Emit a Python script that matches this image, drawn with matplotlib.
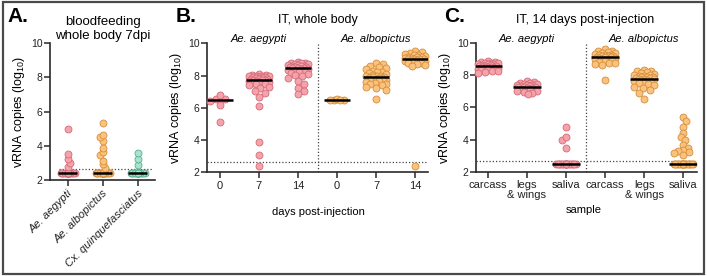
import numpy as np
import matplotlib
matplotlib.use('Agg')
import matplotlib.pyplot as plt
from matplotlib.patches import Rectangle
import matplotlib.transforms as mtransforms

plt.rcParams['font.family'] = ['Liberation Sans', 'DejaVu Sans']
plt.rcParams['mathtext.fontset'] = 'custom'
plt.rcParams['mathtext.rm'] = 'Liberation Sans'
plt.rcParams['mathtext.it'] = 'Liberation Sans:italic'

# ---------------- data ----------------
LOD = 2.65

# Panel A: bloodfeeding, whole body 7 dpi
A_species = ["Ae. aegypti", "Ae. albopictus", "Cx. quinquefasciatus"]
A_aegypti = [2.4] * 22 + [2.75, 3.0, 3.2, 3.5, 5.0]
A_albopictus = [2.4] * 22 + [2.71, 2.91, 3.14, 3.45, 3.64, 3.87, 4.26, 4.49, 4.65, 5.35]
A_culex = [2.4] * 16 + [2.9, 3.2, 3.6]

# Panel B: IT, whole body
B_days = ["0", "7", "14", "0", "7", "14"]
B_aeg_d0 = [6.52, 6.55, 6.17, 6.79, 6.45, 5.09]
B_aeg_d7 = [8.10, 8.05, 8.02, 8.00, 7.98, 7.95, 7.95, 7.92, 7.90, 7.88, 7.85, 7.83,
            7.80, 7.78, 7.76, 7.74, 7.72, 7.70, 7.68, 7.65, 7.62, 7.58, 7.55, 7.50,
            7.45, 7.40, 7.30, 7.20, 7.05, 6.90, 6.70, 6.10, 3.90, 3.10, 2.40]
B_aeg_d14 = [8.85, 8.80, 8.78, 8.75, 8.72, 8.70, 8.68, 8.65, 8.62, 8.60, 8.58, 8.55,
             8.52, 8.50, 8.48, 8.46, 8.45, 8.43, 8.40, 8.35, 8.30, 8.25, 8.20, 8.15,
             8.10, 8.05, 7.95, 7.85, 7.65, 7.45, 7.25, 7.05, 6.85]
B_alb_d0 = [6.48, 6.50, 6.52, 6.50, 6.49]
B_alb_d7 = [8.80, 8.70, 8.60, 8.50, 8.45, 8.40, 8.30, 8.25, 8.20, 8.15, 8.10, 8.05,
            8.00, 7.98, 7.95, 7.92, 7.90, 7.88, 7.86, 7.84, 7.80, 7.78, 7.75, 7.72,
            7.70, 7.65, 7.60, 7.55, 7.50, 7.45, 7.40, 7.30, 7.20, 7.10, 6.55]
B_alb_d14 = [9.55, 9.45, 9.40, 9.35, 9.30, 9.25, 9.20, 9.18, 9.15, 9.12, 9.10, 9.08,
             9.05, 9.03, 9.02, 9.00, 8.98, 8.95, 8.92, 8.90, 8.85, 8.80, 8.75, 8.70,
             8.65, 8.60, 2.40]

# Panel C: IT, 14 days post-injection
C_samples = ["carcass", "legs\n& wings", "saliva", "carcass", "legs\n& wings", "saliva"]
C_aeg_carcass = [8.90, 8.85, 8.82, 8.80, 8.78, 8.75, 8.72, 8.70, 8.68, 8.65, 8.62, 8.60,
                 8.58, 8.56, 8.55, 8.54, 8.52, 8.50, 8.48, 8.45, 8.42, 8.40, 8.38, 8.35,
                 8.30, 8.25, 8.20, 8.15]
C_aeg_legs = [7.62, 7.58, 7.55, 7.50, 7.48, 7.45, 7.42, 7.40, 7.38, 7.35, 7.32, 7.30,
              7.28, 7.26, 7.24, 7.20, 7.15, 7.10, 7.05, 7.00, 6.95, 6.90, 6.85]
C_aeg_saliva = [2.48] * 18 + [3.50, 3.95, 4.15, 4.80]
C_alb_carcass = [9.62, 9.55, 9.50, 9.45, 9.42, 9.38, 9.35, 9.30, 9.28, 9.25, 9.22, 9.20,
                 9.18, 9.15, 9.13, 9.12, 9.10, 9.08, 9.05, 9.02, 9.00, 8.95, 8.90, 8.85,
                 8.80, 8.75, 8.70, 8.65, 7.70]
C_alb_legs = [8.35, 8.30, 8.25, 8.20, 8.15, 8.10, 8.05, 8.00, 7.98, 7.95, 7.92, 7.90,
              7.88, 7.85, 7.82, 7.80, 7.78, 7.76, 7.74, 7.70, 7.65, 7.60, 7.55, 7.50,
              7.45, 7.40, 7.30, 7.20, 7.10, 6.90, 6.55]
C_alb_saliva = [2.48] * 18 + [5.38, 5.15, 4.80, 4.40, 4.15, 3.95, 3.68, 3.50, 3.38,
                              3.30, 3.22, 3.15, 3.05]

# ---------------- style ----------------
PINK = ('#F5A3AA', '#D46A77')
ORANGE = ('#FBC27E', '#D68E3A')
TEAL = ('#A9E3CF', '#52B08C')
AXC = '#2a2a2a'

W, H = 707, 276
fig = plt.figure(figsize=(W / 100, H / 100), dpi=100)


def ax_px(l, r, t, b):
    return fig.add_axes([l / W, 1 - b / H, (r - l) / W, (b - t) / H])


def fx(x):
    return x / W


def fy(y):
    return 1 - y / H


def style(ax, xlim):
    ax.set_xlim(*xlim)
    ax.set_ylim(2, 10)
    ax.set_yticks([2, 4, 6, 8, 10])
    for s in ('top', 'right'):
        ax.spines[s].set_visible(False)
    for s in ('left', 'bottom'):
        ax.spines[s].set_linewidth(1.2)
        ax.spines[s].set_color(AXC)
    ax.tick_params(axis='both', length=4, width=1.1, color=AXC, labelcolor='#222')
    ax.tick_params(axis='y', labelsize=7.5, pad=1.5)
    ax.tick_params(axis='x', labelsize=8, pad=2)
    ax.set_facecolor('none')


def swarm_offsets(ax, vals, d=7.0, maxhalf=10.0, overlap=0.85):
    pos = ax.get_position()
    x0, x1 = ax.get_xlim()
    ppx = pos.width * W / (x1 - x0)
    ppy = pos.height * H / 8.0
    y = np.asarray(vals, float) * ppy
    n = len(y)
    order = np.argsort(-y, kind='stable')
    step = d * 0.2
    k = int(maxhalf / step)
    cands = sorted([i * step for i in range(-k, k + 1)], key=lambda c: (abs(c), c))
    px = np.zeros(n)
    placed = []
    for idx, i in enumerate(order):
        best_c, best_m = 0.0, -1.0
        cl = cands if idx % 2 == 0 else sorted(cands, key=lambda c: (abs(c), -c))
        for c in cl:
            if placed:
                m = min(np.hypot(c - px[j], y[i] - y[j]) for j in placed)
            else:
                m = np.inf
            if m >= overlap * d - 1e-9:
                best_c = c
                break
            if m > best_m:
                best_m, best_c = m, c
        px[i] = best_c
        placed.append(i)
    return px / ppx


def draw_group(ax, x, vals, col, hw, maxhalf, overlap=0.85):
    off = swarm_offsets(ax, vals, maxhalf=maxhalf, overlap=overlap)
    ax.scatter(x + off, vals, s=25, facecolor=col[0], edgecolor=col[1],
               linewidth=0.6, zorder=3, clip_on=False)
    ax.hlines(np.median(vals), x - hw, x + hw, color='black', lw=1.8, zorder=5)


dot = (0, (1, 1.6))

# ---------------- Panel A ----------------
axA = ax_px(50, 155, 43.3, 180)
style(axA, (-0.5, 2.5))
axA.plot([-0.25, 2.45], [LOD, LOD], ls=dot, color='#444', lw=0.9, zorder=2)
for i, (v, c) in enumerate(zip([A_aegypti, A_albopictus, A_culex], [PINK, ORANGE, TEAL])):
    draw_group(axA, i, v, c, 0.28, 8, overlap=0.55)
axA.set_xticks(range(3))
axA.set_xticklabels(A_species, rotation=45, ha='right', rotation_mode='anchor',
                    style='italic', fontsize=8)
axA.set_ylabel('vRNA copies (log$_{10}$)', fontsize=9, labelpad=3)

# ---------------- Panel B ----------------
axB = ax_px(207, 428, 43.3, 172.3)
style(axB, (-0.33, 5.33))
axB.axhline(LOD, ls=dot, color='#444', lw=0.9, zorder=2)
axB.axvline(2.5, ls=dot, color='#444', lw=0.9, zorder=2)
B_groups = [B_aeg_d0, B_aeg_d7, B_aeg_d14, B_alb_d0, B_alb_d7, B_alb_d14]
for i, v in enumerate(B_groups):
    draw_group(axB, i, v, PINK if i < 3 else ORANGE, 0.33, 11)
axB.set_xticks(range(6))
axB.set_xticklabels(B_days)
axB.set_ylabel('vRNA copies (log$_{10}$)', fontsize=9, labelpad=3)

# ---------------- Panel C ----------------
axC = ax_px(476, 697, 43.3, 171.7)
style(axC, (-0.3, 5.35))
axC.axhline(LOD, ls=dot, color='#444', lw=0.9, zorder=2)
axC.axvline(2.5, ls=dot, color='#444', lw=0.9, zorder=2)
C_groups = [C_aeg_carcass, C_aeg_legs, C_aeg_saliva, C_alb_carcass, C_alb_legs, C_alb_saliva]
for i, v in enumerate(C_groups):
    draw_group(axC, i, v, PINK if i < 3 else ORANGE, 0.36, 11,
               overlap=0.65 if i in (2, 5) else 0.85)
axC.set_xticks(range(6))
axC.set_xticklabels(C_samples, linespacing=1.0)
axC.set_ylabel('vRNA copies (log$_{10}$)', fontsize=9, labelpad=3)

# species subtitles
for ax in (axB, axC):
    tr = mtransforms.blended_transform_factory(ax.transData, fig.transFigure)
    ax.text(1, fy(39), 'Ae. aegypti', transform=tr, ha='center', va='center',
            style='italic', fontsize=8)
    ax.text(4, fy(39), 'Ae. albopictus', transform=tr, ha='center', va='center',
            style='italic', fontsize=8)

# titles, labels
fig.text(fx(103), fy(29), 'bloodfeeding\nwhole body 7dpi', ha='center', va='center',
         fontsize=9.5, linespacing=1.25)
fig.text(fx(318), fy(20), 'IT, whole body', ha='center', va='center', fontsize=9)
fig.text(fx(585), fy(20), 'IT, 14 days post-injection', ha='center', va='center', fontsize=9)
fig.text(fx(318), fy(212), 'days post-injection', ha='center', va='center', fontsize=8)
fig.text(fx(584), fy(210), 'sample', ha='center', va='center', fontsize=8)

fig.text(fx(7), fy(17), 'A.', ha='left', va='center', fontsize=15, weight='bold')
fig.text(fx(176), fy(16), 'B.', ha='left', va='center', fontsize=15, weight='bold')
fig.text(fx(444), fy(17), 'C.', ha='left', va='center', fontsize=15, weight='bold')

# outer frame
fig.patches.append(Rectangle((fx(2.5), fy(273.5)), (704 - 2.5) / W, (273.5 - 2) / H,
                             transform=fig.transFigure, fill=False,
                             edgecolor='#4a4a4a', lw=1.6, zorder=10))

fig.savefig('out.png', dpi=100, facecolor='white')
